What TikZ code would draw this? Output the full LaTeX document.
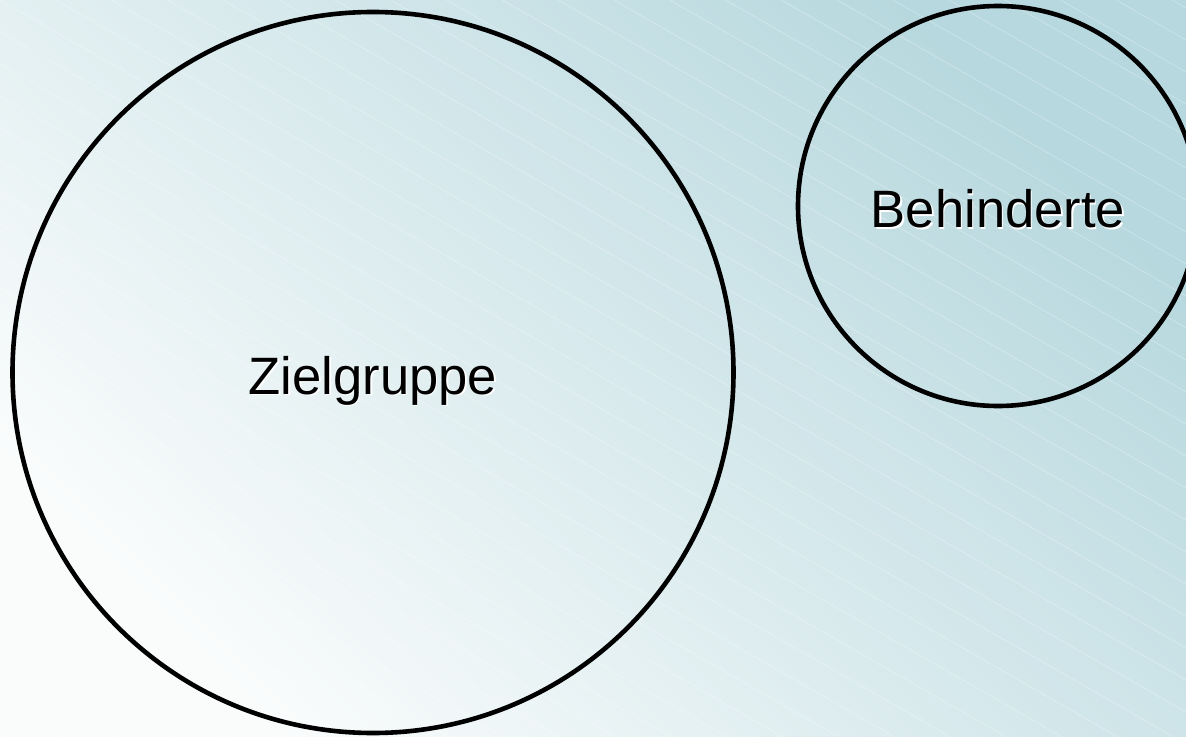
\documentclass[tikz,border=0pt]{standalone}
\usepackage{fontspec}
\setmainfont{Liberation Sans}
\begin{document}
\begin{tikzpicture}[x=1bp,y=-1bp,
  ring/.style={circle, draw=black, line width=4.6bp, inner sep=0pt, minimum size=#1},
  caption/.style={font=\fontsize{52.8}{60}\selectfont, inner sep=0pt, text=black},
  glow/.style={font=\fontsize{52.8}{60}\selectfont, inner sep=0pt, text=white}]
  \definecolor{bgLight}{RGB}{250,252,252}
  \definecolor{bgTeal}{RGB}{183,216,222}
  \useasboundingbox (0,0) rectangle (1186,737);
  \begin{scope}
    \clip (0,0) rectangle (1186,737);
    % diagonal background gradient, light at bottom left, teal at top right
    \shade[top color=bgTeal, bottom color=bgLight, shading angle=-45]
      (0,0) rectangle (1186,737);
    % faint diagonal hatching
    \foreach \k in {-24,...,25} {
      \draw[white, opacity=0.35, line width=0.6bp]
        (0,{\k*32}) -- (1186,{\k*32+680});
    }
  \end{scope}
  % circles
  \node[ring=721bp] (ziel) at (373,372.5) {};
  \node[ring=400bp] (beh) at (998,206) {};
  % labels with a light offset shadow
  \node[glow] at ([xshift=1.5bp,yshift=-9.5bp]ziel.center) {Zielgruppe};
  \node[caption] (zielt) at ([yshift=-8bp]ziel.center) {Zielgruppe};
  \node[glow] at ([xshift=1.5bp,yshift=-4.5bp]beh.center) {Behinderte};
  \node[caption] (beht) at ([yshift=-3bp]beh.center) {Behinderte};
\end{tikzpicture}
\end{document}
